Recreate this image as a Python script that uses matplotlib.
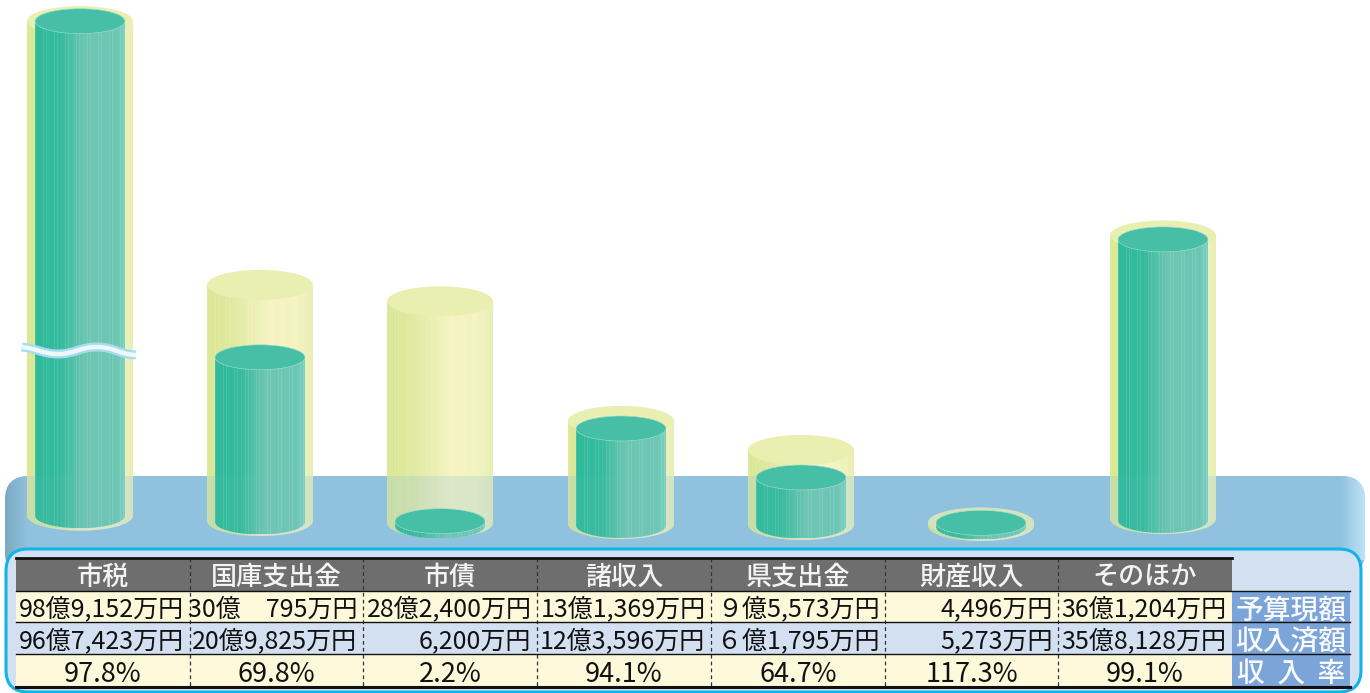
import numpy as np
import matplotlib
matplotlib.use("Agg")
import matplotlib.pyplot as plt
from matplotlib.colors import to_rgb
from matplotlib.patches import Ellipse, FancyBboxPatch, PathPatch, Rectangle
from matplotlib.path import Path

plt.rcParams['font.family'] = ['Noto Sans CJK JP', 'DejaVu Sans']

# Data, in 億円
categories = ['市税', '国庫支出金', '市債', '諸収入', '県支出金', '財産収入', 'そのほか']
budget = [98.9152, 30.0795, 28.24, 13.1369, 9.5573, 0.4496, 36.1204]
revenue = [96.7423, 20.9825, 0.62, 12.3596, 6.1795, 0.5273, 35.8128]
budget_labels = ['98億9,152万円', '30億\u3000795万円', '28億2,400万円', '13億1,369万円',
                 '９億5,573万円', '4,496万円', '36億1,204万円']
revenue_labels = ['96億7,423万円', '20億9,825万円', '6,200万円', '12億3,596万円',
                  '６億1,795万円', '5,273万円', '35億8,128万円']
rate_labels = ['97.8%', '69.8%', '2.2%', '94.1%', '64.7%', '117.3%', '99.1%']
row_names = ['予算現額', '収入済額', '収  入  率']

# the first column is cut by the wavy break mark
BREAK_VALUE = 63
PX_PER_OKU = 7.85

centers = [80, 260, 440, 621, 801, 981, 1163]
bases = [515.7, 521, 523, 524, 525, 526, 519]
inner_bases = [515.7, 522, 526, 525.5, 526, 527, 520.5]
col_edges = [16, 190, 363, 537, 711, 885, 1058, 1232]
row_edges = [558, 590.5, 622, 654, 686.5]
LABEL_RIGHT = 1350

fig = plt.figure(figsize=(13.7, 6.93), dpi=100)
ax = fig.add_axes([0, 0, 1, 1])


def mix(c1, c2, t):
    return tuple((1 - t) * a + t * b for a, b in zip(to_rgb(c1), to_rgb(c2)))


def body_path(x, hw, y_top, y_base, hh):
    # side walls plus the front half of the bottom ellipse
    t = np.linspace(np.pi, 0, 60)
    xs = np.r_[x - hw, x - hw, x + hw * np.cos(t), x + hw]
    ys = np.r_[y_top, y_base, y_base + hh * np.sin(t), y_top]
    return Path(np.c_[xs, ys], closed=False)


def draw_body(x, hw, y_top, y_base, hh, stops, tint, z):
    n = int(hw * 2)
    u = np.linspace(0, 1, n)
    rgb = np.array([to_rgb(c) for _, c in stops])
    pos = [p for p, _ in stops]
    img = np.stack([np.interp(u, pos, rgb[:, k]) for k in range(3)], axis=1)
    # thin vertical streaks of the printed gradient
    for i in range(n):
        if (i * 7) % 11 < 2:
            img[i] = img[i] * 0.89 + 0.11
        elif (i * 5) % 13 == 0:
            img[i] = img[i] * 0.96 + 0.04
    patch = PathPatch(body_path(x, hw, y_top, y_base, hh), fc='none', ec='none')
    ax.add_patch(patch)
    im = ax.imshow(img[np.newaxis, :, :], extent=(x - hw, x + hw, y_base + hh, y_top),
                   aspect='auto', interpolation='nearest', zorder=z)
    im.set_clip_path(patch)
    # the part standing on the blue platform looks tinted
    shade = Rectangle((x - hw, 476), hw * 2, 80, fc='#90c1de', ec='none', alpha=tint, zorder=z + 0.05)
    ax.add_patch(shade)
    shade.set_clip_path(patch)


# platform
platform = FancyBboxPatch((5, 476), 1360, 100, boxstyle='round,pad=0,rounding_size=24',
                          fc='#90c1de', ec='none', zorder=1)
ax.add_patch(platform)
for x0, x1, c0, c1 in [(5, 28, '#7aaac2', '#90c1de'), (1340, 1365, '#90c1de', '#bce3f8')]:
    grad = np.array([[mix(c0, c1, t) for t in np.linspace(0, 1, 25)]])
    im = ax.imshow(grad, extent=(x0, x1, 560, 476), aspect='auto', zorder=1.1)
    im.set_clip_path(platform)

outer_stops = [(0, '#dbe896'), (0.22, '#dfe99f'), (0.6, '#f6f4c2'), (0.85, '#f2f3c0'), (1, '#e8efb4')]
inner_stops = [(0, '#2fba9b'), (0.28, '#35bb9d'), (0.55, '#6cc6b2'), (0.9, '#6cc6b4'), (1, '#78d0bc')]

for x, base, ibase, b, r in zip(centers, bases, inner_bases, budget, revenue):
    top_o = base - min(b, BREAK_VALUE) * PX_PER_OKU
    top_i = ibase - min(r, BREAK_VALUE) * PX_PER_OKU
    draw_body(x, 53, top_o, base, 15, outer_stops, 0.25, 2)
    c_top = mix('#e9efb0', '#90c1de', 0.25) if top_o > 476 else '#e9efb0'
    ax.add_patch(Ellipse((x, top_o), 106, 30, fc=c_top, ec='none', zorder=2.2))
    draw_body(x, 45, top_i, ibase, 12.5, inner_stops, 0.06, 2.3)
    ax.add_patch(Ellipse((x, top_i), 90, 25, fc='#47bfa6', ec='#a8e0d0', lw=0.4, zorder=2.4))

# wavy break mark over the first column
verts = [(22, 347), (38, 349), (44, 354), (58, 354), (74, 354), (80, 347), (97, 347),
         (114, 347), (118, 354), (136, 355)]
codes = [Path.MOVETO] + [Path.CURVE4] * 9
wave = Path(verts, codes)
ax.add_patch(PathPatch(wave, fc='none', ec='#a6dcf2', lw=6.5, zorder=3))
ax.add_patch(PathPatch(wave, fc='none', ec='#eef8f8', lw=3.2, zorder=3.1))

# table panel
ax.add_patch(FancyBboxPatch((6, 549), 1355, 143, boxstyle='round,pad=0,rounding_size=22',
                            fc='#d3e0f1', ec='#12b4e8', lw=2.2, zorder=4))

left, right = col_edges[0], col_edges[-1]
row_fills = ['#6e6e6e', '#fdf9da', '#d3e0f1', '#fdf9da']
for i, fill in enumerate(row_fills):
    ax.add_patch(Rectangle((left, row_edges[i]), right - left, row_edges[i + 1] - row_edges[i],
                           fc=fill, ec='none', zorder=5))
for i in range(1, 4):
    ax.add_patch(Rectangle((right, row_edges[i]), LABEL_RIGHT - right, row_edges[i + 1] - row_edges[i],
                           fc='#7ba4d8', ec='none', zorder=5))

for x in col_edges[1:-1]:
    ax.plot([x, x], [row_edges[0], row_edges[-1]], color='#333333', lw=0.9,
            ls=(0, (3, 2.5)), zorder=6)
ax.plot([left, right], [row_edges[0]] * 2, color='#111111', lw=2, zorder=6)
for y in row_edges[1:4]:
    ax.plot([left, LABEL_RIGHT], [y, y], color='#111111', lw=1, zorder=6)
ax.plot([left, LABEL_RIGHT], [row_edges[4]] * 2, color='#111111', lw=2.2, zorder=6)

TEXT_SIZE = 18
for j, name in enumerate(categories):
    mid = (col_edges[j] + col_edges[j + 1]) / 2
    x_end = col_edges[j + 1] - 5.5
    ax.text(mid, 574, name, color='#f4f4f4', fontsize=18.8, fontweight='medium', ha='center',
            va='center_baseline', zorder=7)
    ax.text(x_end, 606.5, budget_labels[j], color='#111111', fontsize=TEXT_SIZE, ha='right',
            va='center_baseline', zorder=7)
    ax.text(x_end, 638.5, revenue_labels[j], color='#111111', fontsize=TEXT_SIZE, ha='right',
            va='center_baseline', zorder=7)
    ax.text(mid, 671, rate_labels[j], color='#111111', fontsize=19.5, ha='center',
            va='center_baseline', zorder=7)
for y, name in zip([606.5, 638.5, 671], row_names):
    ax.text((right + LABEL_RIGHT) / 2, y, name, color='#f7f9fc', fontsize=20, fontweight='medium',
            ha='center', va='center_baseline', zorder=7)

ax.set_xlim(0, 1370)
ax.set_ylim(693, 0)
ax.axis('off')

fig.savefig('out.png', dpi=100)
